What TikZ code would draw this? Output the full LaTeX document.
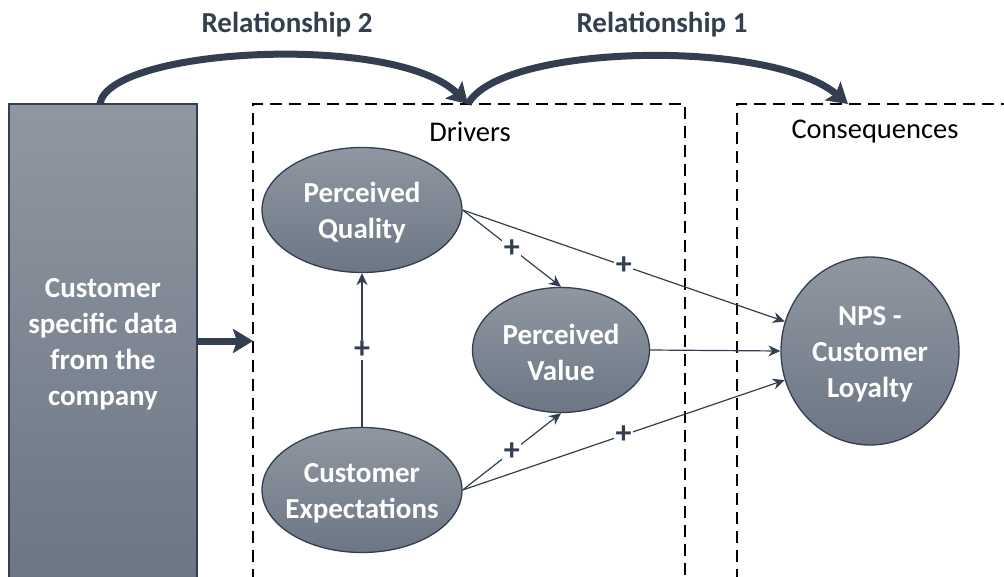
\documentclass[tikz,border=0pt]{standalone}
\usepackage{fontspec}
\setmainfont{Carlito}
\usetikzlibrary{shapes.geometric,arrows.meta}
\definecolor{dk}{HTML}{333F50}
\definecolor{gtop}{HTML}{9097A2}
\definecolor{gbot}{HTML}{6C7684}
\tikzset{
  bubble/.style={ellipse, draw=dk, line width=1.3pt, top color=gtop, bottom color=gbot, inner sep=0pt},
  btext/.style={text=white, font=\fontsize{29}{36}\selectfont\bfseries, align=center, inner sep=0pt},
  datablock/.style={rectangle, draw=dk, line width=1.3pt, top color=gtop, bottom color=gbot,
    text=white, font=\fontsize{29}{36}\selectfont\bfseries, align=center, inner sep=0pt},
  thin/.style={draw=dk, line width=1.2pt, -{Stealth[length=12pt,width=11pt]}},
  thick/.style={draw=dk, line width=7pt, -{Stealth[length=20pt,width=24pt,inset=4pt]}},
  plus/.style={fill=white, inner sep=1.5pt, text=dk, font=\fontsize{32}{32}\selectfont\bfseries},
  frame/.style={draw=black, line width=1.3pt, dash pattern=on 12pt off 7pt},
  head/.style={font=\fontsize{28.5}{34}\selectfont, text=black},
  rel/.style={font=\fontsize{29}{34}\selectfont\bfseries, text=dk}
}
\begin{document}
\begin{tikzpicture}[x=1pt,y=-1pt]
\useasboundingbox (0,0) rectangle (1004,576);
\clip (0,0) rectangle (1004,576);
\fill[white] (0,0) rectangle (1004,576);
% frames
\draw[frame] (253,600) -- (253,104) -- (685,104) -- (685,600);
\draw[frame] (737,600) -- (737,104) -- (1020,104);
\node[head] (drv) at (470,132) {Drivers};
\node[head] (cons) at (875,132) {Consequences};
% data block
\node[datablock, minimum width=188pt, minimum height=474pt] (data) at (103,341)
  {\rule{0pt}{26pt}Customer\\specific data\\from the\\company};
% ellipses
\node[bubble, minimum width=200pt, minimum height=125pt] (pq) at (362,210) {};
\node[bubble, minimum width=200pt, minimum height=125pt] (ce) at (362,490) {};
\node[bubble, minimum width=177pt, minimum height=125pt] (pv) at (561,350) {};
\node[bubble, minimum width=178pt, minimum height=188pt] (nps) at (870,351) {};
\node[btext] (pqt) at (pq) {\rule{0pt}{26pt}Perceived\\Quality};
\node[btext] (cet) at (ce) {\rule{0pt}{26pt}Customer\\Expectations};
\node[btext] (pvt) at (pv) {\rule{0pt}{26pt}Perceived\\Value};
\node[btext] (npst) at (nps) {\rule{0pt}{26pt}NPS -\\Customer\\Loyalty};
% relationship labels
\node[rel] (r2) at (287,25) {Relationship 2};
\node[rel] (r1) at (662,25) {Relationship 1};
% thick arrows
\coordinate (din) at (253,341);
\coordinate (dtop) at (100,104);
\coordinate (drvtop) at (468,104);
\coordinate (constop) at (848,104);
\draw[thick] (data.east |- din) -- (din);
\draw[thick] (dtop) .. controls (108,48) and (395,32) .. (drvtop);
\draw[thick] (drvtop) .. controls (500,44) and (770,38) .. (constop);
% thin arrows
\draw[thin] (pq.east) -- node[plus]{+} (pv.north);
\draw[thin] (pq.east) -- node[plus]{+} (nps);
\draw[thin] (ce.east) -- node[plus]{+} (pv.south);
\draw[thin] (ce.east) -- node[plus]{+} (nps);
\draw[thin] (ce.north) -- node[plus]{+} (pq.south);
\draw[thin] (pv.east) -- (nps.west);
\end{tikzpicture}
\end{document}
